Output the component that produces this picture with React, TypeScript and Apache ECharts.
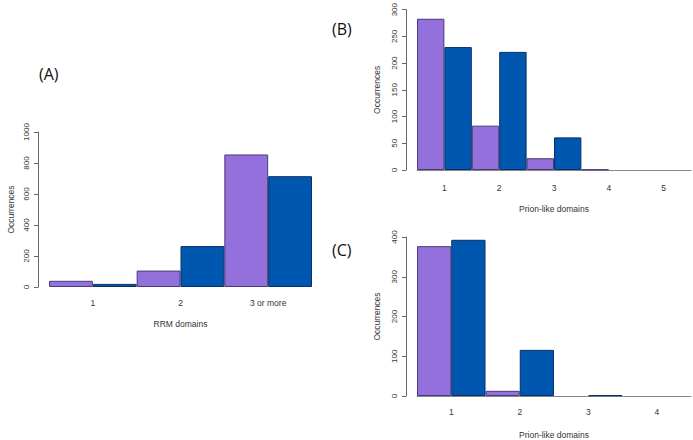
import React, { useEffect, useRef } from "react";
import * as echarts from "echarts";

const catsA = ["1", "2", "3 or more"];
const purpleA = [40, 106, 855];
const blueA = [20, 264, 715];

const catsB = ["1", "2", "3", "4", "5"];
const purpleB = [283, 83, 22, 1, 0];
const blueB = [230, 221, 61, 0, 0];

const catsC = ["1", "2", "3", "4"];
const purpleC = [377, 13, 0, 0];
const blueC = [393, 116, 2, 0];

const PURPLE = "#9370DB";
const BLUE = "#0057B0";
const FONT = "Liberation Sans";

export default function App() {
  const ref = useRef<HTMLDivElement>(null);
  useEffect(() => {
    const chart = echarts.init(ref.current!, null, { renderer: "svg" });
    const yAxisBase = (gridIndex: number, max: number, interval: number, nameGap: number) => ({
      type: "value",
      gridIndex,
      min: 0,
      max,
      interval,
      offset: 11,
      name: "Occurrences",
      nameLocation: "middle",
      nameGap,
      nameTextStyle: { fontFamily: FONT, fontSize: 8.5, color: "#333" },
      axisLine: { show: true, lineStyle: { color: "#666", width: 1 } },
      axisTick: { show: true, length: 4, lineStyle: { color: "#666" } },
      axisLabel: {
        rotate: 90,
        margin: 8,
        fontFamily: FONT,
        fontSize: 8,
        color: "#333",
        formatter: (v: number) => String(v),
      },
      splitLine: { show: false },
    });
    const xAxisBase = (
      gridIndex: number,
      data: string[],
      name: string,
      showLine: boolean,
      margin: number,
      nameGap: number
    ) => ({
      type: "category",
      gridIndex,
      data,
      name,
      nameLocation: "middle",
      nameGap,
      nameTextStyle: { fontFamily: FONT, fontSize: 8.5, color: "#333" },
      axisLine: { show: showLine, lineStyle: { color: "#888", width: 1 } },
      axisTick: { show: false },
      axisLabel: { margin, fontFamily: FONT, fontSize: 8.5, color: "#333" },
      splitLine: { show: false },
    });
    const bar = (idx: number, data: number[], color: string, border: string) => ({
      type: "bar",
      xAxisIndex: idx,
      yAxisIndex: idx,
      data: data.map((v) => (v === 0 ? "-" : v)),
      barGap: "0%",
      barCategoryGap: "0%",
      itemStyle: { color, borderColor: border, borderWidth: 1 },
    });
    chart.setOption({
      animation: false,
      grid: [
        { left: 49, top: 132, width: 263, height: 155 },
        { left: 417, top: 8, width: 274, height: 162 },
        { left: 417, top: 237, width: 274, height: 162 },
      ],
      xAxis: [
        xAxisBase(0, catsA, "RRM domains", false, 11, 32),
        xAxisBase(1, catsB, "Prion-like domains", true, 13, 34),
        xAxisBase(2, catsC, "Prion-like domains", true, 11, 34),
      ],
      yAxis: [
        yAxisBase(0, 1000, 200, 23),
        yAxisBase(1, 300, 50, 25),
        yAxisBase(2, 400, 100, 25),
      ],
      series: [
        bar(0, purpleA, PURPLE, "#4b3a78"),
        bar(0, blueA, BLUE, "#0a2f66"),
        bar(1, purpleB, PURPLE, "#4b3a78"),
        bar(1, blueB, BLUE, "#0a2f66"),
        bar(2, purpleC, PURPLE, "#4b3a78"),
        bar(2, blueC, BLUE, "#0a2f66"),
      ],
      graphic: [
        { type: "text", left: 39, top: 66, style: { text: "(A)", fontFamily: "Open Sans", fontSize: 16, fill: "#111" } },
        { type: "text", left: 332, top: 21, style: { text: "(B)", fontFamily: "Open Sans", fontSize: 16, fill: "#111" } },
        { type: "text", left: 332, top: 242, style: { text: "(C)", fontFamily: "Open Sans", fontSize: 16, fill: "#111" } },
      ],
    });
    return () => chart.dispose();
  }, []);
  return (
    <div
      ref={ref}
      style={{ position: "fixed", left: 0, top: 0, width: 693, height: 440, background: "#fff" }}
    />
  );
}
